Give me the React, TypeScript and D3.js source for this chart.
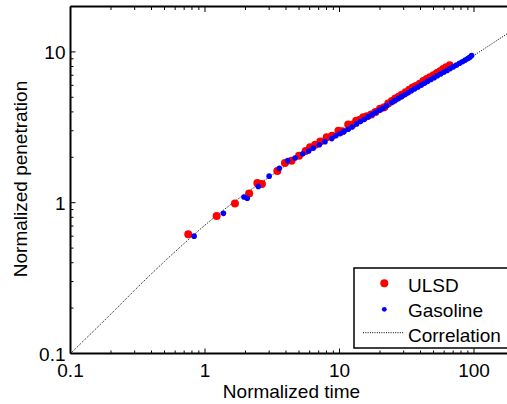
import React from "react";
import * as d3 from "d3";

const W = 507;
const H = 404;

// Correlation curve (normalized time, normalized penetration)
const corrX = [0.1, 0.2, 0.3, 0.5, 0.7, 1, 1.5, 2, 3, 5, 7, 10, 15, 20, 30, 50, 70, 100, 150, 200];
const corrY = [0.1, 0.183, 0.263, 0.408, 0.537, 0.71, 0.95, 1.15, 1.48, 2.03, 2.45, 2.92, 3.6, 4.15, 5.1, 6.6, 7.9, 9.5, 12.0, 14.2];

// ULSD data
const ulsdX = [0.751, 1.22, 1.67, 2.13, 2.45, 2.65, 3.45, 3.93, 4.4, 5.0, 5.6, 6.04, 6.6, 7.2, 8.03, 8.8, 9.82, 10.5, 11.6, 12.5, 13.3, 14.2, 15.0, 16.0, 17.2, 18.5, 20.0, 21.5, 23.0, 24.5, 26.0, 27.5, 29.0, 31.0, 33.0, 35.0, 37.0, 39.5, 42.0, 44.5, 47.0, 50.0, 53.0, 56.0, 59.0, 62.0, 66.0];
const ulsdY = [0.617, 0.817, 0.988, 1.15, 1.35, 1.33, 1.62, 1.83, 1.9, 2.05, 2.2, 2.33, 2.42, 2.55, 2.72, 2.78, 3.0, 2.98, 3.3, 3.3, 3.5, 3.55, 3.69, 3.75, 3.85, 4.0, 4.2, 4.3, 4.55, 4.72, 4.9, 5.05, 5.2, 5.4, 5.6, 5.8, 5.95, 6.15, 6.4, 6.6, 6.8, 7.0, 7.25, 7.45, 7.7, 7.9, 8.17];

// Gasoline data
const gasX = [0.83, 1.37, 1.95, 2.06, 2.49, 3.0, 3.57, 4.12, 4.67, 5.33, 5.9, 6.38, 7.08, 7.8, 8.75, 9.4, 10.1, 10.8, 11.6, 12.4, 13.4, 14.3, 15.3, 16.4, 17.5, 18.6, 19.8, 21.0, 22.4, 24.4, 25.8, 27.3, 28.9, 30.6, 32.4, 34.2, 36.2, 38.3, 40.5, 42.8, 45.2, 47.8, 50.5, 53.4, 56.4, 59.6, 63.0, 66.5, 70.2, 74.0, 78.0, 82.0, 86.0, 90.0, 93.0, 96.0];
const gasY = [0.6, 0.85, 1.09, 1.07, 1.28, 1.5, 1.69, 1.9, 1.98, 2.11, 2.2, 2.3, 2.42, 2.54, 2.66, 2.78, 2.87, 2.97, 3.07, 3.18, 3.33, 3.45, 3.57, 3.72, 3.85, 3.97, 4.1, 4.22, 4.4, 4.62, 4.75, 4.9, 5.05, 5.2, 5.36, 5.52, 5.69, 5.85, 6.02, 6.2, 6.38, 6.56, 6.74, 6.94, 7.13, 7.33, 7.53, 7.75, 7.96, 8.17, 8.4, 8.6, 8.82, 9.03, 9.2, 9.45];

const xTickValues = [0.1, 1, 10, 100];
const xTickLabels = ["0.1", "1", "10", "100"];
const yTickValues = [0.1, 1, 10];
const yTickLabels = ["0.1", "1", "10"];

const seriesNames = ["ULSD", "Gasoline", "Correlation"];

const FONT = "'Liberation Sans', Arial, sans-serif";

export default function App() {
  const left = 70.5;
  const top = 6.5;
  const bottom = 353.5;
  const right = 514.5;

  const x = d3.scaleLog().domain([0.1, 200]).range([left, right]);
  const y = d3.scaleLog().domain([0.1, 20]).range([bottom, top]);

  const minorX: number[] = [];
  [0.1, 1, 10, 100].forEach((d) => {
    for (let k = 2; k <= 9; k++) {
      const v = d * k;
      if (v <= 200) minorX.push(v);
    }
  });
  const minorY: number[] = [];
  [0.1, 1, 10].forEach((d) => {
    for (let k = 2; k <= 9; k++) {
      const v = d * k;
      if (v < 20) minorY.push(v);
    }
  });

  const corrData = corrX.map((v, i) => [v, corrY[i]] as [number, number]);
  const line = d3
    .line<[number, number]>()
    .x((d) => x(d[0]))
    .y((d) => y(d[1]))
    .curve(d3.curveMonotoneX);

  const ulsd = ulsdX.map((v, i) => [v, ulsdY[i]]);
  const gas = gasX.map((v, i) => [v, gasY[i]]);

  const legX = 354;
  const legY = 268;

  return (
    <svg
      width={W}
      height={H}
      style={{ position: "absolute", left: 0, top: 0, background: "#fff" }}
      fontFamily={FONT}
    >
      <defs>
        <clipPath id="plotClip">
          <rect x={left} y={top} width={right - left} height={bottom - top} />
        </clipPath>
      </defs>
      <rect x={0} y={0} width={W} height={H} fill="#fff" />

      <g clipPath="url(#plotClip)">
        <path
          d={line(corrData) || ""}
          fill="none"
          stroke="#000"
          strokeWidth={1}
          strokeDasharray="1 1.3"
        />
        {ulsd.map((d, i) => (
          <circle key={"u" + i} cx={x(d[0])} cy={y(d[1])} r={4} fill="#ff0000" />
        ))}
        {gas.map((d, i) => (
          <circle key={"g" + i} cx={x(d[0])} cy={y(d[1])} r={2.8} fill="#0000ff" />
        ))}
      </g>

      {/* frame */}
      <line x1={left} x2={right} y1={top} y2={top} stroke="#000" strokeWidth={2} />
      <line x1={left} x2={right} y1={bottom} y2={bottom} stroke="#000" strokeWidth={2} />
      <line x1={left} x2={left} y1={top} y2={bottom} stroke="#000" strokeWidth={2} />
      <line x1={right} x2={right} y1={top} y2={bottom} stroke="#000" strokeWidth={2} />

      {/* x ticks */}
      {xTickValues.map((v) => (
        <g key={"xt" + v}>
          <line x1={x(v)} x2={x(v)} y1={bottom} y2={bottom - 5} stroke="#000" strokeWidth={1} />
          <line x1={x(v)} x2={x(v)} y1={top} y2={top + 5.5} stroke="#000" strokeWidth={1} />
        </g>
      ))}
      {minorX.map((v) => (
        <g key={"xm" + v}>
          <line x1={x(v)} x2={x(v)} y1={bottom} y2={bottom - 3} stroke="#000" strokeWidth={1} />
          <line x1={x(v)} x2={x(v)} y1={top} y2={top + 3.5} stroke="#000" strokeWidth={1} />
        </g>
      ))}
      {xTickValues.map((v, i) => (
        <text key={"xl" + v} x={x(v)} y={377} textAnchor="middle" fontSize={19} fill="#000">
          {xTickLabels[i]}
        </text>
      ))}

      {/* y ticks */}
      {yTickValues.map((v) => (
        <line key={"yt" + v} x1={left} x2={left + 5} y1={y(v)} y2={y(v)} stroke="#000" strokeWidth={1} />
      ))}
      {minorY.map((v) => (
        <line key={"ym" + v} x1={left} x2={left + 3} y1={y(v)} y2={y(v)} stroke="#000" strokeWidth={1} />
      ))}
      {yTickValues.map((v, i) => (
        <text key={"yl" + v} x={65.5} y={y(v) + 7} textAnchor="end" fontSize={19} fill="#000">
          {yTickLabels[i]}
        </text>
      ))}

      {/* axis titles */}
      <text x={291.5} y={398} textAnchor="middle" fontSize={19} fill="#000">
        Normalized time
      </text>
      <text
        transform={`translate(27,179) rotate(-90)`}
        textAnchor="middle"
        fontSize={19}
        fill="#000"
      >
        Normalized penetration
      </text>

      {/* legend */}
      <rect x={legX} y={legY} width={170} height={80} fill="#fff" stroke="#000" strokeWidth={1.5} />
      <circle cx={384.3} cy={283.3} r={4} fill="#ff0000" />
      <text x={408} y={291.5} fontSize={19} fill="#000">{seriesNames[0]}</text>
      <circle cx={384.3} cy={309.3} r={2.4} fill="#0000ff" />
      <text x={408} y={317.3} fontSize={19} fill="#000">{seriesNames[1]}</text>
      <line x1={363} x2={404} y1={332.7} y2={332.7} stroke="#000" strokeWidth={1} strokeDasharray="1 1.3" />
      <text x={408} y={341.7} fontSize={19} fill="#000">{seriesNames[2]}</text>
    </svg>
  );
}
